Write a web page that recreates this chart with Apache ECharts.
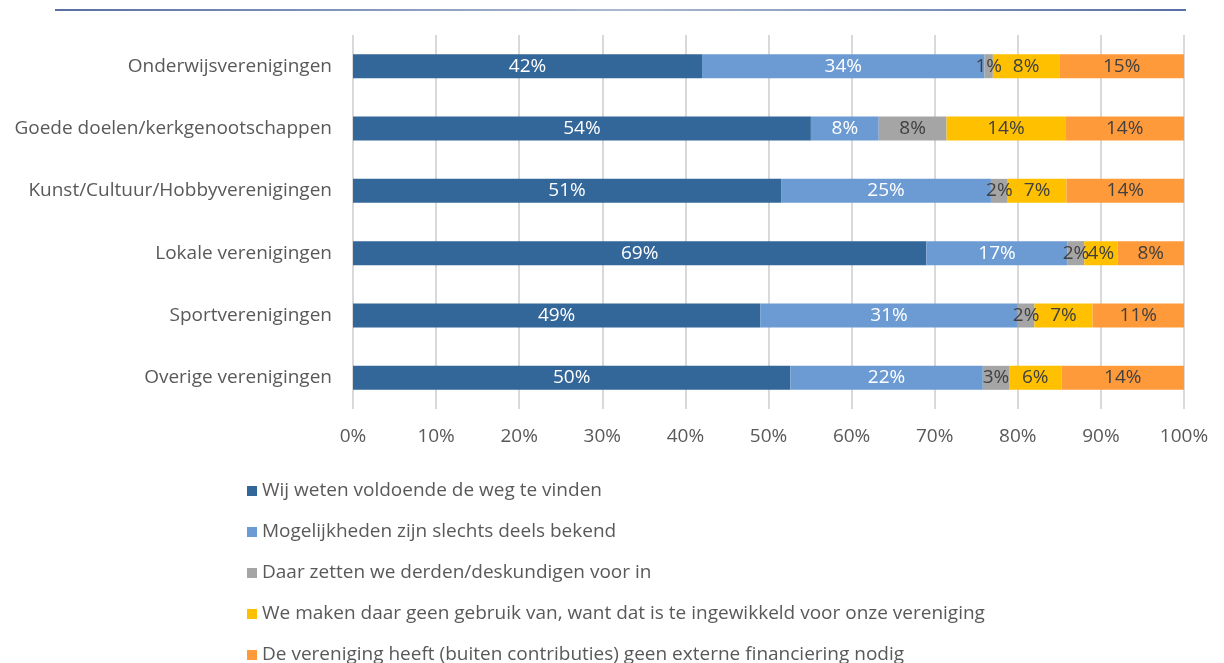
<!DOCTYPE html>
<html>
<head>
<meta charset="utf-8">
<script src="https://cdn.jsdelivr.net/npm/echarts@6/dist/echarts.min.js"></script>
<style>
html,body{margin:0;padding:0;background:#fff;}
#chart{width:1224px;height:663px;}
</style>
</head>
<body>
<div id="chart"></div>
<script>
const categories = ["Onderwijsverenigingen","Goede doelen/kerkgenootschappen","Kunst/Cultuur/Hobbyverenigingen","Lokale verenigingen","Sportverenigingen","Overige verenigingen"];
const seriesNames = ["Wij weten voldoende de weg te vinden","Mogelijkheden zijn slechts deels bekend","Daar zetten we derden/deskundigen voor in","We maken daar geen gebruik van, want dat is te ingewikkeld voor onze vereniging","De vereniging heeft (buiten contributies) geen externe financiering nodig"];
const weetWeg = [42,54,51,69,49,50];
const deelsBekend = [34,8,25,17,31,22];
const derden = [1,8,2,2,2,3];
const teIngewikkeld = [8,14,7,4,7,6];
const geenFinanciering = [15,14,14,8,11,14];
const tickLabels = ["0%","10%","20%","30%","40%","50%","60%","70%","80%","90%","100%"];

const colors = ["#336699","#6c9bd3","#a5a5a5","#ffc000","#ff9a3a"];
const labelColors = ["#ffffff","#ffffff","#404040","#404040","#404040"];
const all = [weetWeg,deelsBekend,derden,teIngewikkeld,geenFinanciering];
const rowSums = categories.map((c,i)=>all.reduce((s,a)=>s+a[i],0));

const chart = echarts.init(document.getElementById('chart'));
const font = "'Open Sans', 'Noto Sans', sans-serif";
chart.setOption({
  animation:false,
  textStyle:{fontFamily:font},
  graphic:[{
    type:'line',
    shape:{x1:55,y1:10,x2:1186,y2:10},
    style:{lineWidth:1.5,stroke:{type:'linear',x:0,y:0,x2:1,y2:0,colorStops:[{offset:0,color:'#1f3f86'},{offset:0.5,color:'#8ea0c0'},{offset:1,color:'#1f3f86'}]}}
  }],
  grid:{left:353,right:40,top:35,bottom:254,containLabel:false},
  legend:{
    orient:'vertical',left:242,top:476,height:200,itemWidth:10,itemHeight:10,itemGap:21,
    icon:'rect',
    textStyle:{fontSize:19,lineHeight:20,color:'#595959',fontFamily:font,padding:[0,0,0,0]},
    data:seriesNames
  },
  xAxis:{
    type:'value',min:0,max:100,interval:10,
    axisLabel:{formatter:(v)=>tickLabels[Math.round(v/10)],fontSize:19,color:'#595959',margin:18,fontFamily:font},
    axisLine:{show:false},axisTick:{show:false},
    splitLine:{show:true,lineStyle:{color:'#d9d9d9',width:2}}
  },
  yAxis:{
    type:'category',data:categories,inverse:true,
    axisLabel:{fontSize:19,color:'#595959',margin:21,fontFamily:font},
    axisLine:{show:false},axisTick:{show:false}
  },
  series:all.map((arr,k)=>({
    name:seriesNames[k],type:'bar',stack:'total',barWidth:24,
    itemStyle:{color:colors[k]},
    label:{show:true,position:'inside',color:labelColors[k],fontSize:19,fontFamily:font,
      formatter:(p)=>arr[p.dataIndex]+'%'},
    data:arr.map((v,i)=>v/rowSums[i]*100)
  }))
});
</script>
</body>
</html>
